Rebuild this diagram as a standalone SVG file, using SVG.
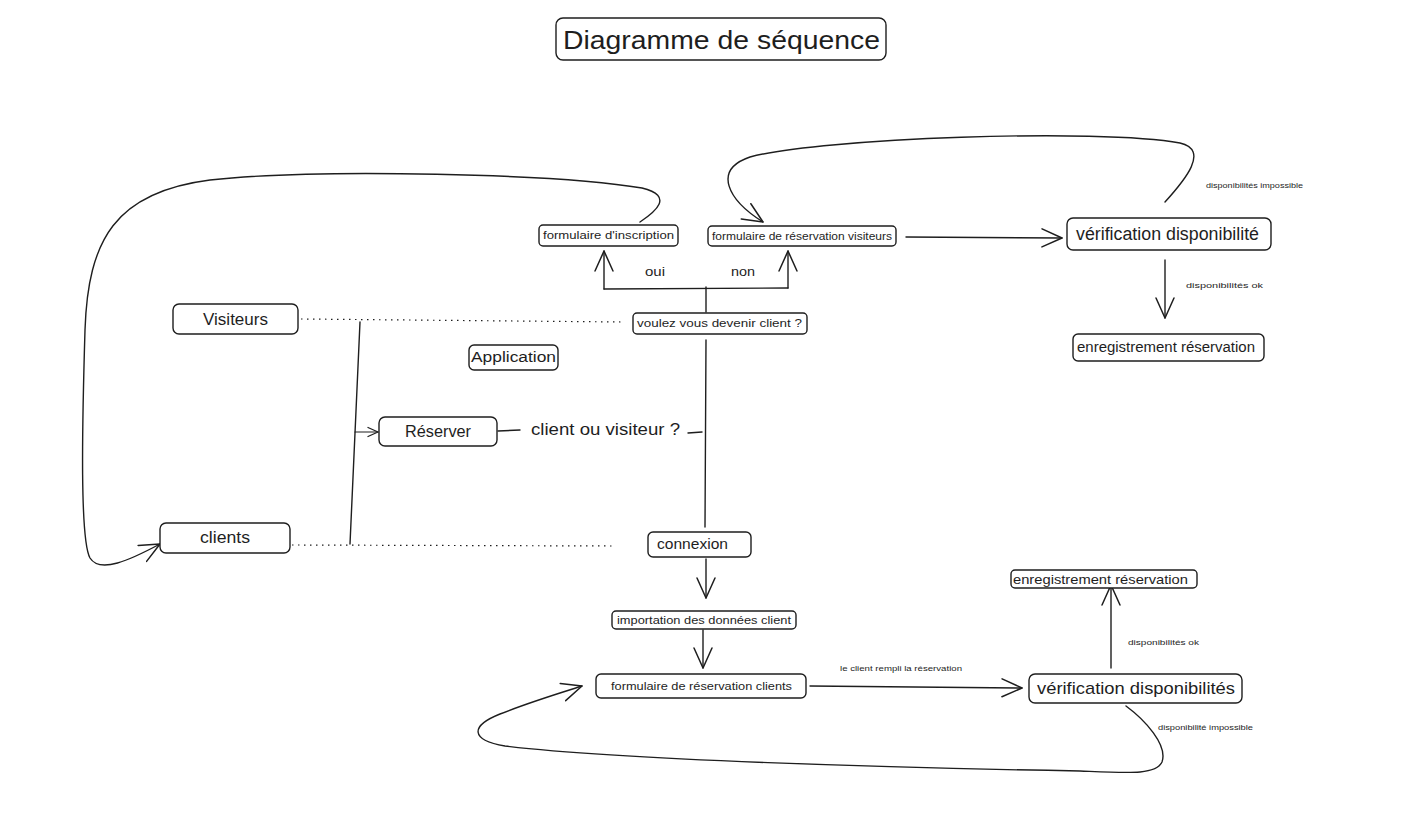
<svg xmlns="http://www.w3.org/2000/svg" width="1403" height="815" viewBox="0 0 1403 815">
  <style>
    .box { fill: #ffffff; stroke: #1e1e1e; stroke-width: 1.4; }
    .t { font-family: "Liberation Sans", "DejaVu Sans", sans-serif; fill: #1e1e1e; }
    .line { fill: none; stroke: #1e1e1e; stroke-width: 1.4; stroke-linecap: round; stroke-linejoin: round; }
    .arrow { fill: none; stroke: #1e1e1e; stroke-width: 1.4; stroke-linecap: round; marker-end: url(#head); }
    .arrow-s { fill: none; stroke: #1e1e1e; stroke-width: 1.2; stroke-linecap: round; marker-end: url(#head-s); }
    .dot { fill: none; stroke: #1e1e1e; stroke-width: 1.2; stroke-dasharray: 1.5 4.5; }
  </style>
  <defs>
    <marker id="head" viewBox="0 0 22 22" refX="21" refY="11" markerWidth="22" markerHeight="22" orient="auto" markerUnits="userSpaceOnUse">
      <path d="M1,2 L21,11 L1,20" fill="none" stroke="#1e1e1e" stroke-width="1.5" stroke-linecap="round" stroke-linejoin="round"/>
    </marker>
    <marker id="head-s" viewBox="0 0 12 12" refX="11" refY="6" markerWidth="12" markerHeight="12" orient="auto" markerUnits="userSpaceOnUse">
      <path d="M1,1.5 L11,6 L1,10.5" fill="none" stroke="#1e1e1e" stroke-width="1.3" stroke-linecap="round" stroke-linejoin="round"/>
    </marker>
  </defs>
  <rect width="1403" height="815" fill="#ffffff"/>

  <!-- connectors -->
  <g id="connectors">
    <!-- lifelines -->
    <path class="dot" d="M301,319 L622,322"/>
    <path class="dot" d="M292,545 L614,546"/>
    <path class="line" d="M360,322 L350,544"/>
    <path class="arrow-s" d="M355,432 L378,432"/>
    <!-- Réserver -> question -> branches -->
    <path class="line" d="M498,431 L520,430"/>
    <path class="line" d="M688,433 L702,432"/>
    <path class="line" d="M706,340 L705,527"/>
    <!-- oui / non split -->
    <path class="line" d="M706,312 L706,287"/>
    <path class="line" d="M604,289 L788,288"/>
    <path class="arrow" d="M604,289 L604,251"/>
    <path class="arrow" d="M788,288 L788,251"/>
    <!-- visitor path -->
    <path class="arrow" d="M906,237 L1062,238"/>
    <path class="arrow" d="M1165,260 L1165,318"/>
    <path class="arrow" d="M1165,202 C1185,180 1210,150 1180,143 C1100,128 820,138 750,157 C712,170 728,200 763,222"/>
    <!-- inscription loop back to clients -->
    <path class="arrow" d="M640,222 C655,212 675,196 642,188 C560,174 320,168 210,180 C115,192 88,240 85,330 C82,430 80,540 90,558 C100,574 130,560 160,544"/>
    <!-- client path -->
    <path class="arrow" d="M706,559 L706,598"/>
    <path class="arrow" d="M703,630 L703,668"/>
    <path class="arrow" d="M810,686 L1022,688"/>
    <path class="arrow" d="M1111,668 L1111,585"/>
    <path class="arrow" d="M1126,706 C1145,720 1168,745 1162,762 C1156,775 1130,773 1080,771 C900,768 620,760 505,746 C470,740 470,726 500,714 C530,702 560,693 582,686"/>
  </g>

  <g id="title">
    <rect class="box" x="556" y="18" width="330" height="42" rx="7"/>
    <text class="t" x="563" y="49" font-size="26" textLength="317" lengthAdjust="spacingAndGlyphs">Diagramme de séquence</text>
  </g>

  <g id="visiteurs">
    <rect class="box" x="173" y="304" width="125" height="30" rx="6"/>
    <text class="t" x="203" y="325" font-size="16" textLength="65" lengthAdjust="spacingAndGlyphs">Visiteurs</text>
  </g>

  <g id="clients">
    <rect class="box" x="160" y="523" width="130" height="30" rx="6"/>
    <text class="t" x="200" y="543" font-size="16" textLength="50" lengthAdjust="spacingAndGlyphs">clients</text>
  </g>

  <g id="application">
    <rect class="box" x="469" y="345" width="89" height="25" rx="5"/>
    <text class="t" x="471" y="362" font-size="14" textLength="85" lengthAdjust="spacingAndGlyphs">Application</text>
  </g>

  <g id="reserver">
    <rect class="box" x="379" y="417" width="118" height="29" rx="6"/>
    <text class="t" x="405" y="437" font-size="16" textLength="66" lengthAdjust="spacingAndGlyphs">Réserver</text>
  </g>

  <g id="question">
    <text class="t" x="531" y="435" font-size="16" textLength="149" lengthAdjust="spacingAndGlyphs">client ou visiteur ?</text>
  </g>

  <g id="devenir-client">
    <rect class="box" x="633" y="313" width="174" height="21" rx="4"/>
    <text class="t" x="637" y="327" font-size="10" textLength="165" lengthAdjust="spacingAndGlyphs">voulez vous devenir client ?</text>
  </g>

  <g id="oui">
    <text class="t" x="645" y="276" font-size="12" textLength="20" lengthAdjust="spacingAndGlyphs">oui</text>
  </g>
  <g id="non">
    <text class="t" x="731" y="276" font-size="12" textLength="24" lengthAdjust="spacingAndGlyphs">non</text>
  </g>

  <g id="formulaire-inscription">
    <rect class="box" x="539" y="225" width="139" height="21" rx="4"/>
    <text class="t" x="543" y="239" font-size="10" textLength="131" lengthAdjust="spacingAndGlyphs">formulaire d'inscription</text>
  </g>

  <g id="formulaire-visiteurs">
    <rect class="box" x="708" y="226" width="188" height="20" rx="4"/>
    <text class="t" x="712" y="240" font-size="10" textLength="180" lengthAdjust="spacingAndGlyphs">formulaire de réservation visiteurs</text>
  </g>

  <g id="verification-visiteurs">
    <rect class="box" x="1067" y="218" width="204" height="32" rx="6"/>
    <text class="t" x="1076" y="240" font-size="18" textLength="183" lengthAdjust="spacingAndGlyphs">vérification disponibilité</text>
  </g>

  <g id="label-impossible-visiteurs">
    <text class="t" x="1206" y="188" font-size="8" textLength="97" lengthAdjust="spacingAndGlyphs">disponibilités impossible</text>
  </g>
  <g id="label-ok-visiteurs">
    <text class="t" x="1186" y="288" font-size="8" textLength="77" lengthAdjust="spacingAndGlyphs">disponibilités ok</text>
  </g>

  <g id="enregistrement-visiteurs">
    <rect class="box" x="1073" y="334" width="191" height="27" rx="5"/>
    <text class="t" x="1077" y="352" font-size="14" textLength="178" lengthAdjust="spacingAndGlyphs">enregistrement réservation</text>
  </g>

  <g id="connexion">
    <rect class="box" x="648" y="532" width="103" height="25" rx="5"/>
    <text class="t" x="657" y="549" font-size="14" textLength="71" lengthAdjust="spacingAndGlyphs">connexion</text>
  </g>

  <g id="importation">
    <rect class="box" x="612" y="611" width="184" height="18" rx="4"/>
    <text class="t" x="617" y="624" font-size="10" textLength="174" lengthAdjust="spacingAndGlyphs">importation des données client</text>
  </g>

  <g id="formulaire-clients">
    <rect class="box" x="596" y="674" width="210" height="24" rx="5"/>
    <text class="t" x="611" y="690" font-size="10" textLength="181" lengthAdjust="spacingAndGlyphs">formulaire de réservation clients</text>
  </g>

  <g id="label-remplit">
    <text class="t" x="840" y="671" font-size="8" textLength="122" lengthAdjust="spacingAndGlyphs">le client rempli la réservation</text>
  </g>

  <g id="verification-clients">
    <rect class="box" x="1029" y="674" width="213" height="29" rx="6"/>
    <text class="t" x="1037" y="694" font-size="17" textLength="198" lengthAdjust="spacingAndGlyphs">vérification disponibilités</text>
  </g>

  <g id="label-ok-clients">
    <text class="t" x="1128" y="645" font-size="8" textLength="71" lengthAdjust="spacingAndGlyphs">disponibilités ok</text>
  </g>

  <g id="enregistrement-clients">
    <rect class="box" x="1011" y="570" width="186" height="18" rx="4"/>
    <text class="t" x="1013" y="584" font-size="13" textLength="175" lengthAdjust="spacingAndGlyphs">enregistrement réservation</text>
  </g>

  <g id="label-impossible-clients">
    <text class="t" x="1158" y="730" font-size="8" textLength="95" lengthAdjust="spacingAndGlyphs">disponibilité impossible</text>
  </g>
</svg>
